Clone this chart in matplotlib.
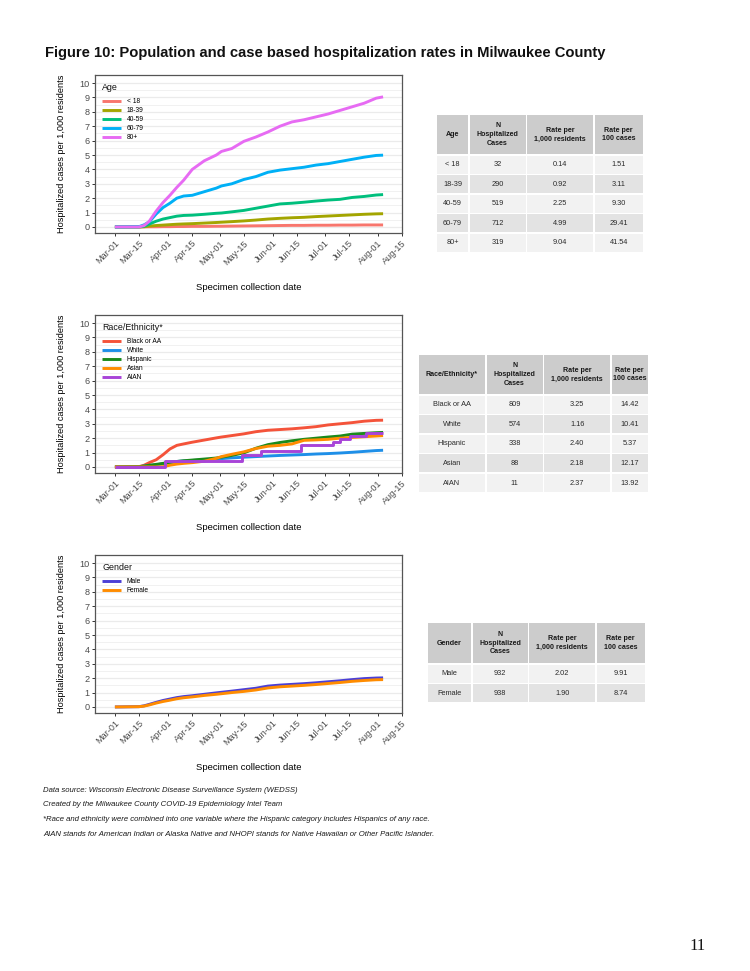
import numpy as np
import matplotlib
matplotlib.use('Agg')
import matplotlib.pyplot as plt
import matplotlib.dates as mdates
from matplotlib.patches import Rectangle

plt.rcParams['font.family'] = ['Liberation Sans', 'DejaVu Sans']

# ---------------- data ----------------
dates = ["2020-03-01", "2020-03-15", "2020-03-18", "2020-03-21", "2020-03-25", "2020-03-29",
         "2020-04-02", "2020-04-06", "2020-04-10", "2020-04-15", "2020-04-22", "2020-04-29",
         "2020-05-02", "2020-05-08", "2020-05-15", "2020-05-22", "2020-05-29", "2020-06-05",
         "2020-06-12", "2020-06-19", "2020-06-26", "2020-07-03", "2020-07-10", "2020-07-17",
         "2020-07-24", "2020-07-31", "2020-08-04"]

age_groups = ["< 18", "18-39", "40-59", "60-79", "80+"]
age_lt18 = [0, 0, 0, 0.01, 0.01, 0.02, 0.02, 0.03, 0.03, 0.04, 0.04, 0.05, 0.05, 0.06, 0.07,
            0.08, 0.09, 0.10, 0.11, 0.11, 0.12, 0.12, 0.13, 0.13, 0.14, 0.14, 0.14]
age_18_39 = [0, 0, 0.02, 0.06, 0.10, 0.13, 0.16, 0.19, 0.21, 0.23, 0.27, 0.31, 0.33, 0.37, 0.42,
             0.48, 0.55, 0.60, 0.64, 0.67, 0.72, 0.76, 0.80, 0.84, 0.88, 0.91, 0.92]
age_40_59 = [0, 0, 0.05, 0.20, 0.40, 0.55, 0.65, 0.75, 0.80, 0.82, 0.88, 0.95, 0.97, 1.05, 1.15,
             1.30, 1.45, 1.60, 1.65, 1.72, 1.80, 1.87, 1.92, 2.05, 2.12, 2.22, 2.25]
age_60_79 = [0, 0.02, 0.15, 0.35, 0.90, 1.35, 1.65, 2.00, 2.15, 2.20, 2.45, 2.70, 2.85, 3.00, 3.30,
             3.50, 3.80, 3.95, 4.05, 4.15, 4.30, 4.40, 4.55, 4.70, 4.85, 4.97, 4.99]
age_80p = [0, 0, 0.10, 0.40, 1.10, 1.70, 2.20, 2.75, 3.25, 4.00, 4.60, 5.00, 5.25, 5.45, 5.95,
           6.25, 6.60, 7.00, 7.30, 7.45, 7.65, 7.85, 8.10, 8.35, 8.60, 8.95, 9.04]

race_groups = ["Black or AA", "White", "Hispanic", "Asian", "AIAN"]
race_black = [0, 0.02, 0.12, 0.30, 0.50, 0.85, 1.25, 1.50, 1.60, 1.72, 1.87, 2.02, 2.08, 2.18, 2.30,
              2.45, 2.55, 2.60, 2.65, 2.72, 2.80, 2.92, 3.00, 3.08, 3.18, 3.24, 3.25]
race_white = [0, 0.02, 0.06, 0.10, 0.15, 0.22, 0.30, 0.38, 0.42, 0.45, 0.50, 0.55, 0.58, 0.63, 0.68,
              0.72, 0.76, 0.80, 0.83, 0.86, 0.90, 0.93, 0.97, 1.02, 1.08, 1.14, 1.16]
race_hispanic = [0, 0.02, 0.06, 0.12, 0.18, 0.25, 0.32, 0.38, 0.43, 0.48, 0.55, 0.62, 0.68, 0.80, 0.98,
                 1.30, 1.55, 1.70, 1.82, 1.92, 2.00, 2.08, 2.15, 2.28, 2.33, 2.38, 2.40]
race_asian = [0, 0, 0, 0, 0, 0.02, 0.12, 0.20, 0.25, 0.30, 0.40, 0.60, 0.72, 0.88, 1.05,
              1.28, 1.44, 1.50, 1.60, 1.85, 1.88, 1.92, 2.00, 2.05, 2.10, 2.15, 2.18]
aian_dates = ["2020-03-01", "2020-03-30", "2020-05-14", "2020-05-25", "2020-06-17", "2020-07-06",
              "2020-07-10", "2020-07-16", "2020-07-25", "2020-08-04"]
race_aian = [0, 0.43, 0.86, 1.08, 1.51, 1.72, 1.94, 2.15, 2.37, 2.37]

gender_groups = ["Male", "Female"]
gender_male = [0, 0.02, 0.08, 0.18, 0.32, 0.45, 0.55, 0.65, 0.72, 0.78, 0.88, 0.98, 1.02, 1.10, 1.20,
               1.30, 1.45, 1.52, 1.57, 1.62, 1.68, 1.75, 1.82, 1.90, 1.97, 2.01, 2.02]
gender_female = [0, 0.02, 0.06, 0.14, 0.27, 0.38, 0.47, 0.57, 0.64, 0.70, 0.80, 0.88, 0.92, 1.00, 1.08,
                 1.18, 1.32, 1.40, 1.45, 1.50, 1.56, 1.63, 1.70, 1.78, 1.84, 1.89, 1.90]

tick_dates = ["2020-03-01", "2020-03-15", "2020-04-01", "2020-04-15", "2020-05-01", "2020-05-15",
              "2020-06-01", "2020-06-15", "2020-07-01", "2020-07-15", "2020-08-01", "2020-08-15"]

col_headers_age = ["Age", "N\nHospitalized\nCases", "Rate per\n1,000 residents", "Rate per\n100 cases"]
tab_age = [["< 18", "32", "0.14", "1.51"],
           ["18-39", "290", "0.92", "3.11"],
           ["40-59", "519", "2.25", "9.30"],
           ["60-79", "712", "4.99", "29.41"],
           ["80+", "319", "9.04", "41.54"]]
col_headers_race = ["Race/Ethnicity*", "N\nHospitalized\nCases", "Rate per\n1,000 residents", "Rate per\n100 cases"]
tab_race = [["Black or AA", "809", "3.25", "14.42"],
            ["White", "574", "1.16", "10.41"],
            ["Hispanic", "338", "2.40", "5.37"],
            ["Asian", "88", "2.18", "12.17"],
            ["AIAN", "11", "2.37", "13.92"]]
col_headers_gender = ["Gender", "N\nHospitalized\nCases", "Rate per\n1,000 residents", "Rate per\n100 cases"]
tab_gender = [["Male", "932", "2.02", "9.91"],
              ["Female", "938", "1.90", "8.74"]]

footnotes = ["Data source: Wisconsin Electronic Disease Surveillance System (WEDSS)",
             "Created by the Milwaukee County COVID-19 Epidemiology Intel Team",
             "*Race and ethnicity were combined into one variable where the Hispanic category includes Hispanics of any race.",
             "AIAN stands for American Indian or Alaska Native and NHOPI stands for Native Hawaiian or Other Pacific Islander."]

# ---------------- figure ----------------
W, H = 750, 971
fig = plt.figure(figsize=(W / 100, H / 100), dpi=100)
fig.patch.set_facecolor('white')

def fx(x):
    return x / W

def fy(y):
    return 1 - y / H

to_dt = lambda lst: np.array(lst, dtype='datetime64[D]')
d = to_dt(dates)

AX_L, AX_R = 95, 402

def make_axes(top, bottom):
    ax = fig.add_axes([fx(AX_L), fy(bottom), (AX_R - AX_L) / W, (bottom - top) / H])
    ax.set_xlim(np.datetime64("2020-02-18") + np.timedelta64(10, 'h'), np.datetime64("2020-08-15"))
    ax.set_ylim(-0.42, 10.56)
    ax.set_yticks(range(0, 11))
    ax.set_yticks(np.arange(0.5, 10.5, 1.0), minor=True)
    ax.yaxis.grid(True, which='major', color='#EBEBEB', lw=0.9)
    ax.yaxis.grid(True, which='minor', color='#EBEBEB', lw=0.5)
    ax.set_axisbelow(True)
    ax.tick_params(axis='y', which='minor', length=0)
    ax.tick_params(axis='both', which='major', length=2.5, width=0.7, color='#333333',
                   labelsize=6.6, labelcolor='#4D4D4D', pad=1.5)
    ax.set_xticks(to_dt(tick_dates))
    ax.xaxis.set_major_formatter(mdates.DateFormatter('%b-%d'))
    for lab in ax.get_xticklabels():
        lab.set_rotation(45)
        lab.set_ha('right')
        lab.set_rotation_mode('anchor')
    for s in ax.spines.values():
        s.set_color('#555555')
        s.set_linewidth(0.9)
    ax.set_ylabel("Hospitalized cases per 1,000 residents", fontsize=6.6, labelpad=9.5)
    ax.set_xlabel("Specimen collection date", fontsize=6.8, labelpad=12)
    return ax

def add_legend(ax, title, top, bottom):
    hpx = bottom - top
    wpx = AX_R - AX_L
    ax.text((102 - AX_L) / wpx, (bottom - (top + 13)) / hpx, title, transform=ax.transAxes,
            ha='left', va='center', fontsize=6.4, color='#111111')
    leg = ax.legend(loc='upper left', bbox_to_anchor=((102 - AX_L) / wpx, (bottom - (top + 23)) / hpx),
                    frameon=False, fontsize=4.8, handlelength=2.85, handletextpad=0.85,
                    labelspacing=0.3, borderaxespad=0.0, borderpad=0.0)
    return leg

LW = 2.1

# Panel 1: Age
P1 = (75, 233)
ax1 = make_axes(*P1)
age_series = [age_lt18, age_18_39, age_40_59, age_60_79, age_80p]
age_colors = ['#F8766D', '#A3A500', '#00BF7D', '#00B0F6', '#E76BF3']
for name, vals, c in zip(age_groups, age_series, age_colors):
    ax1.plot(d, vals, color=c, lw=LW, label=name, solid_capstyle='butt')
add_legend(ax1, "Age", *P1)

# Panel 2: Race
P2 = (315, 473)
ax2 = make_axes(*P2)
race_colors = ['#F4533A', '#1E8FE8', '#1B8A1B', '#FF8C00', '#A844D8']
race_series = [race_black, race_white, race_hispanic, race_asian]
for name, vals, c in zip(race_groups[:4], race_series, race_colors[:4]):
    ax2.plot(d, vals, color=c, lw=LW, label=name, solid_capstyle='butt')
ax2.plot(to_dt(aian_dates), race_aian, color=race_colors[4], lw=LW, label=race_groups[4],
         drawstyle='steps-post', solid_capstyle='butt')
add_legend(ax2, "Race/Ethnicity*", *P2)

# Panel 3: Gender
P3 = (555, 713)
ax3 = make_axes(*P3)
gender_colors = ['#4B3FD6', '#FF8C00']
for name, vals, c in zip(gender_groups, [gender_male, gender_female], gender_colors):
    ax3.plot(d, vals, color=c, lw=LW, label=name, solid_capstyle='butt')
add_legend(ax3, "Gender", *P3)

# ---------------- tables ----------------
def draw_table(x0, col_w, top, head_h, row_h, headers, rows, gap=1.6):
    header_bg = '#CCCCCC'
    row_bg = ['#F2F2F2', '#E3E3E3']
    xs = [x0]
    for w in col_w:
        xs.append(xs[-1] + w + gap)
    for j, w in enumerate(col_w):
        fig.add_artist(Rectangle((fx(xs[j]), fy(top + head_h)), w / W, head_h / H,
                                 facecolor=header_bg, edgecolor='none', transform=fig.transFigure))
        fig.text(fx(xs[j] + w / 2), fy(top + head_h / 2), headers[j], ha='center', va='center',
                 fontsize=5.1, fontweight='bold', color='#1A1A1A', linespacing=1.35)
    y = top + head_h + gap
    for i, row in enumerate(rows):
        for j, w in enumerate(col_w):
            fig.add_artist(Rectangle((fx(xs[j]), fy(y + row_h)), w / W, row_h / H,
                                     facecolor=row_bg[i % 2], edgecolor='none', transform=fig.transFigure))
            fig.text(fx(xs[j] + w / 2), fy(y + row_h / 2), row[j], ha='center', va='center',
                     fontsize=5.3, color='#2A2A2A')
        y += row_h + gap

draw_table(437, [31, 56, 66, 48], 115, 39, 18, col_headers_age, tab_age)
draw_table(419, [66, 56, 66, 36], 355, 39, 18, col_headers_race, tab_race)
draw_table(428, [43, 55, 66, 48], 623, 40, 18, col_headers_gender, tab_gender)

# ---------------- texts ----------------
fig.text(fx(45), fy(53), "Figure 10: Population and case based hospitalization rates in Milwaukee County",
         ha='left', va='center', fontsize=10.6, fontweight='bold', color='#111111')

for k, line in enumerate(footnotes):
    fig.text(fx(43), fy(790 + 14.7 * k), line, ha='left', va='center', fontsize=5.6,
             style='italic', color='#1A1A1A')

fig.text(fx(698), fy(946), "11", ha='center', va='center', fontsize=12,
         family=['Liberation Serif', 'DejaVu Serif'], color='#111111')

fig.savefig('out.png', dpi=100, facecolor='white')
